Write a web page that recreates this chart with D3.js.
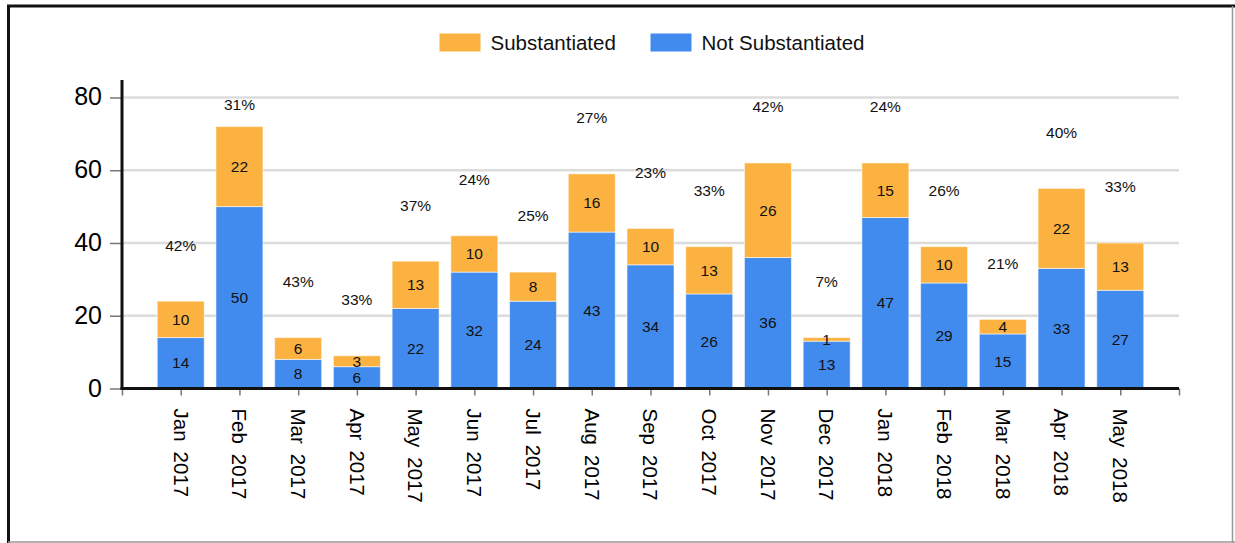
<!DOCTYPE html>
<html>
<head>
<meta charset="utf-8">
<script src="https://cdn.jsdelivr.net/npm/d3@7"></script>
<style>
  html, body { margin: 0; padding: 0; background: #fff; }
  svg { display: block; font-family: "Liberation Sans", Arial, sans-serif; }
</style>
</head>
<body>
<svg id="chart" width="1235" height="543"></svg>
<script>
const categories = ["Jan 2017","Feb 2017","Mar 2017","Apr 2017","May 2017","Jun 2017","Jul 2017","Aug 2017","Sep 2017","Oct 2017","Nov 2017","Dec 2017","Jan 2018","Feb 2018","Mar 2018","Apr 2018","May 2018"];
const notSubstantiated = [14,50,8,6,22,32,24,43,34,26,36,13,47,29,15,33,27];
const substantiated = [10,22,6,3,13,10,8,16,10,13,26,1,15,10,4,22,13];
const percentLabels = ["42%","31%","43%","33%","37%","24%","25%","27%","23%","33%","42%","7%","24%","26%","21%","40%","33%"];
const yTicks = [0,20,40,60,80];
const seriesNames = ["Substantiated","Not Substantiated"];
const colors = {"Substantiated":"#FBB241","Not Substantiated":"#418BEE"};

const svg = d3.select("#chart");

// frame
svg.append("line").attr("x1",8.5).attr("x2",8.5).attr("y1",5).attr("y2",543).attr("stroke","#111").attr("stroke-width",3);
svg.append("line").attr("x1",7).attr("x2",1235).attr("y1",6).attr("y2",6).attr("stroke","#111").attr("stroke-width",3);
svg.append("line").attr("x1",1232.5).attr("x2",1232.5).attr("y1",6).attr("y2",543).attr("stroke","#999").attr("stroke-width",1.5);
svg.append("line").attr("x1",8).attr("x2",1235).attr("y1",542).attr("y2",542).attr("stroke","#999").attr("stroke-width",1.5);

const plotLeft = 122, plotRight = 1179, plotBottom = 388.5, plotTop = 80;
const x = d3.scaleLinear().domain([0, categories.length + 1]).range([plotLeft, plotRight]);
const y = d3.scaleLinear().domain([0, 84.8]).range([plotBottom, plotTop]);
const step = x(1) - x(0);
const barW = step * 0.8;

// gridlines
svg.append("g").selectAll("line").data(yTicks.filter(d => d > 0)).join("line")
  .attr("x1", plotLeft).attr("x2", plotRight)
  .attr("y1", d => y(d)).attr("y2", d => y(d))
  .attr("stroke", "#dcdcdc").attr("stroke-width", 2.5);

// y axis
const yAxis = d3.axisLeft(y).tickValues(yTicks).tickSize(12).tickPadding(8);
const gy = svg.append("g").attr("transform", `translate(${plotLeft},0)`).call(yAxis);
gy.select(".domain").remove();
gy.selectAll(".tick line").attr("stroke", "#777").attr("stroke-width", 1.5);
gy.selectAll(".tick text").attr("font-size", 25).attr("fill", "#000").attr("font-family", "Liberation Sans, Arial, sans-serif").attr("dy", "0.3em");

// x axis ticks
const xTickIdx = d3.range(0, categories.length + 2);
const gx = svg.append("g").attr("transform", `translate(0,${plotBottom})`)
  .call(d3.axisBottom(x).tickValues(xTickIdx).tickSize(7).tickFormat(""));
gx.select(".domain").remove();
gx.selectAll(".tick line").attr("stroke", "#777").attr("stroke-width", 1.5);

// x labels
const xl = svg.append("g").selectAll("text").data(categories).join("text")
  .attr("transform", (d, i) => `translate(${x(i + 1)},${plotBottom + 20}) rotate(90)`)
  .attr("dy", "0.35em")
  .attr("font-size", 20.5).attr("fill", "#000");
xl.append("tspan").text(d => d.split(" ")[0]);
xl.append("tspan").attr("dx", 10).text(d => d.split(" ")[1]);

// bars
const data = categories.map((c, i) => ({cat: c, i, "Not Substantiated": notSubstantiated[i], "Substantiated": substantiated[i]}));
const stack = d3.stack().keys(["Not Substantiated", "Substantiated"]);
const stacked = stack(data);

const gBars = svg.append("g");
stacked.forEach(layer => {
  const g = gBars.append("g");
  g.selectAll("rect").data(layer).join("rect")
    .attr("x", d => x(d.data.i + 1) - barW / 2)
    .attr("width", barW)
    .attr("y", d => y(d[1]))
    .attr("height", d => y(d[0]) - y(d[1]))
    .attr("fill", colors[layer.key])
    .attr("stroke", "rgba(255,255,255,0.55)").attr("stroke-width", 1);
  g.selectAll("text").data(layer).join("text")
    .attr("x", d => x(d.data.i + 1))
    .attr("y", d => (y(d[0]) + y(d[1])) / 2)
    .attr("dy", "0.35em")
    .attr("text-anchor", "middle")
    .attr("font-size", 15.5).attr("fill", "#111")
    .text(d => d[1] - d[0]);
});

// axis lines
svg.append("line").attr("x1", plotLeft).attr("x2", plotLeft).attr("y1", plotTop).attr("y2", plotBottom + 1.5).attr("stroke", "#111").attr("stroke-width", 3);
svg.append("line").attr("x1", plotLeft - 1.5).attr("x2", plotRight).attr("y1", plotBottom).attr("y2", plotBottom).attr("stroke", "#111").attr("stroke-width", 3);

// percent labels
const pctOffset = 15.4;
svg.append("g").selectAll("text").data(data).join("text")
  .attr("x", d => x(d.i + 1))
  .attr("y", d => Math.max(y(d["Not Substantiated"] + d["Substantiated"] + pctOffset), plotTop + 25))
  .attr("dy", "0.35em")
  .attr("text-anchor", "middle")
  .attr("font-size", 15.5).attr("fill", "#111")
  .text((d, i) => percentLabels[i]);

// legend
const legendPos = [{sx: 439.5, tx: 490.5}, {sx: 650.5, tx: 701.5}];
const lg = svg.append("g");
seriesNames.forEach((name, k) => {
  lg.append("rect").attr("x", legendPos[k].sx).attr("y", 33.5).attr("width", 41).attr("height", 18).attr("fill", colors[name]);
  lg.append("text").attr("x", legendPos[k].tx).attr("y", 50).attr("font-size", 20.5).attr("fill", "#111").text(name);
});
</script>
</body>
</html>
